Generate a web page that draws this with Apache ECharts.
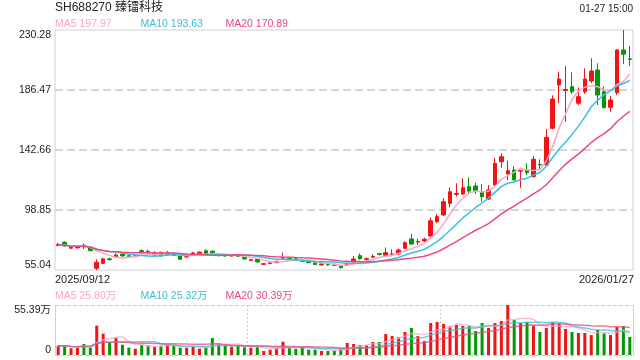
<!DOCTYPE html>
<html><head><meta charset="utf-8">
<script src="https://cdn.jsdelivr.net/npm/echarts@6/dist/echarts.min.js"></script>
<style>html,body{margin:0;padding:0;background:#fff}#c{width:640px;height:360px}</style>
</head><body><div id="c"></div>
<script>
// ---- trading days (categories) ----
const sepDays = [12,15,16,17,18,19,22,23,24,25,26,29,30];
const octDays = [9,10,13,14,15,16,17,20,21,22,23,24,27,28,29,30,31];
const novDays = [3,4,5,6,7,10,11,12,13,14,17,18,19,20,21,24,25,26,27,28];
const decDays = [1,2,3,4,5,8,9,10,11,12,15,16,17,18,19,22,23,24,25,26,29,30,31];
const janDays = [5,6,7,8,9,12,13,14,15,16,19,20,21,22,23,26,27];

// ---- price (OHLC) ----
const openPrices = [73.0,75.3,70.9,71.2,73.1,71.6,56.3,59.9,63.2,64.3, 66.7,65.5,64.8,69.1,68.7,66.0,67.9,66.0,67.2,65.3, 64.5,66.7,66.7,69.1,68.8,66.5,66.0,65.3,66.0,64.3, 62.1,63.1,59.2,59.7,60.4,63.7,64.0,63.3,62.3,61.4, 60.2,58.7,59.4,59.2,58.2,58.5,60.9,65.5,62.8,64.5, 66.9,65.8,66.3,66.7,70.9,77.7,75.4,76.2,79.9,90.3, 95.2,103.7,110.3,110.5,115.9,116.4,112.2,106.9,117.1,134.1, 125.1,128.1,127.2,128.1,123.2,132.1,131.7,158.5,190.1,186.1, 188.9,176.8,185.2,193.0,201.1,185.2,173.8,184.5,215.7,209.2];
const closePrices = [73.6,72.6,71.6,71.9,72.1,69.1,60.7,63.1,62.6,66.0, 65.3,64.8,65.5,67.7,67.7,67.2,65.3,67.7,65.7,62.9, 65.3,67.5,68.1,67.2,66.7,65.7,65.3,65.9,65.1,63.1, 62.6,60.9,59.6,60.2,61.4,64.0,63.5,62.6,61.4,60.4, 59.0,59.4,58.7,58.5,56.7,59.9,63.1,63.3,63.3,65.0, 66.4,67.7,66.8,69.6,75.0,74.0,75.9,77.5,91.0,94.0, 104.9,112.2,110.9,115.1,112.7,112.7,108.6,113.5,132.9,137.8, 127.6,120.8,127.6,126.1,135.9,131.7,151.9,179.9,194.5,186.8, 185.2,181.6,194.5,200.3,182.8,173.5,179.2,215.7,212.6,208.85];
const lowPrices = [72.3,72.3,70.6,70.9,70.4,68.7,55.04,59.5,61.8,64.0, 64.8,64.5,64.5,67.2,67.2,65.6,65.0,65.6,65.3,62.5, 64.0,66.0,66.3,66.7,66.3,65.0,64.8,64.9,64.8,62.8, 61.6,60.5,58.8,59.3,60.0,63.3,63.0,62.1,61.1,60.0, 58.7,58.3,58.2,58.0,56.3,58.0,60.5,62.6,61.8,63.8, 65.6,65.5,65.0,66.3,70.5,73.5,73.3,75.5,78.6,89.2, 94.5,100.8,108.6,110.0,111.0,110.5,104.9,106.0,116.5,129.7, 120.8,120.3,115.1,124.4,122.5,128.1,131.0,157.8,176.8,163.3, 183.6,175.5,183.6,191.4,175.5,173.1,170.6,182.8,205.3,204.0];
const highPrices = [74.8,76.0,72.0,72.3,74.5,72.0,62.9,64.0,64.0,67.2, 67.5,66.0,66.0,70.1,69.9,68.8,68.4,68.9,67.9,65.8, 65.8,68.4,68.6,70.1,69.3,67.0,66.5,66.4,66.5,64.8, 63.0,63.4,60.0,60.6,61.8,67.7,64.5,63.8,62.9,61.8, 60.7,59.9,59.9,59.6,58.7,60.4,65.2,67.2,64.2,66.3, 67.6,71.5,70.1,70.8,76.0,81.3,77.9,78.6,93.3,95.9, 107.4,115.4,118.3,122.0,122.7,118.8,117.8,117.1,137.0,140.2, 134.8,131.0,128.0,133.0,138.3,135.9,158.0,182.6,199.8,204.0, 199.4,188.2,202.3,209.6,206.0,188.9,182.1,216.2,230.28,218.6];

// ---- volume (万) ----
const volumes = [10.3,10.3,7.4,8.1,12.2,8.1,32.5,23.6,13.7,19.2, 11.4,8.1,7.0,11.4,10.7,9.2,10.3,11.8,10.7,8.1, 8.1,9.2,7.0,8.5,18.8,12.5,10.7,9.2,10.3,8.5, 8.1,8.9,4.4,5.9,7.7,14.8,7.8,6.8,8.9,5.9, 5.9,4.4,4.4,4.8,6.6,13.3,12.2,11.1,10.7,14.4, 14.4,23.2,21.0,19.6,25.5,29.9,21.0,15.5,35.4,36.5, 34.3,31.7,33.2,32.1,32.1,26.6,35.4,29.9,35.4,37.6, 55.39,38.7,35.4,36.5,32.1,25.5,29.9,36.5,35.1,28.8, 25.5,24.4,24.4,22.1,27.7,23.9,22.1,31.0,32.1,20.0];

// ---- axis ticks / texts ----
const priceTicks = [55.04, 98.85, 142.66, 186.47, 230.28];
const volTicks = [0, 55.39];
const titleText = 'SH688270 臻镭科技';
const timeText = '01-27 15:00';
const priceLegend = ['MA5 197.97', 'MA10 193.63', 'MA20 170.89'];
const volLegend = ['MA5 25.80万', 'MA10 25.32万', 'MA20 30.39万'];

const UP = '#f01414', DOWN = '#009a00';
const MA_COLORS = ['#f9a7c4', '#35c2e2', '#ea4a80'];
const FONT = "'Liberation Sans', Arial, 'Noto Sans CJK SC', sans-serif";

function pad(n) { return (n < 10 ? '0' : '') + n; }
const categories = []
  .concat(sepDays.map(d => '2025/09/' + pad(d)))
  .concat(octDays.map(d => '2025/10/' + pad(d)))
  .concat(novDays.map(d => '2025/11/' + pad(d)))
  .concat(decDays.map(d => '2025/12/' + pad(d)))
  .concat(janDays.map(d => '2026/01/' + pad(d)));

function movingAverage(arr, n) {
  return arr.map((_, i) => {
    const s = Math.max(0, i - n + 1);
    let sum = 0;
    for (let k = s; k <= i; k++) sum += arr[k];
    return +(sum / (i - s + 1)).toFixed(2);
  });
}

const kData = openPrices.map((o, i) => [o, closePrices[i], lowPrices[i], highPrices[i]]);
const volData = volumes.map((v, i) => ({
  value: v,
  itemStyle: { color: closePrices[i] >= openPrices[i] ? UP : DOWN }
}));
const priceMA = [5, 10, 20].map(n => movingAverage(closePrices, n));
const volMA = [5, 10, 20].map(n => movingAverage(volumes, n));

const legendX = [55, 140.5, 225.5];
const graphics = [
  { type: 'text', x: 55, y: 8, style: { text: titleText, fill: '#222', font: '12px ' + FONT, textAlign: 'left', textVerticalAlign: 'middle' } },
  { type: 'text', x: 633, y: 9, style: { text: timeText, fill: '#222', font: '10px ' + FONT, textAlign: 'right', textVerticalAlign: 'middle' } },
  { type: 'text', x: 55, y: 280, style: { text: categories[0], fill: '#222', font: '11px ' + FONT, textAlign: 'left', textVerticalAlign: 'middle' } },
  { type: 'text', x: 634, y: 280, style: { text: categories[categories.length - 1], fill: '#222', font: '11px ' + FONT, textAlign: 'right', textVerticalAlign: 'middle' } }
];
priceLegend.forEach((t, i) => graphics.push({ type: 'text', x: legendX[i], y: 24, style: { text: t, fill: MA_COLORS[i], font: '10.5px ' + FONT, textAlign: 'left', textVerticalAlign: 'middle' } }));
volLegend.forEach((t, i) => graphics.push({ type: 'text', x: legendX[i], y: 296, style: { text: t, fill: MA_COLORS[i], font: '10.5px ' + FONT, textAlign: 'left', textVerticalAlign: 'middle' } }));

const gridLineStyle = { color: '#d6d6d6', type: 'dashed', width: 2, opacity: 1 };
const volLineStyle = { color: '#cccccc', type: 'dashed', width: 1, opacity: 1 };

const chart = echarts.init(document.getElementById('c'), null, { renderer: 'canvas' });
chart.setOption({
  animation: false,
  backgroundColor: '#fff',
  graphic: graphics,
  grid: [
    { left: 55, top: 30, width: 578, height: 240, show: true, borderColor: '#d0d0d0', borderWidth: 1, backgroundColor: 'transparent' },
    { left: 55, top: 305, width: 578, height: 50 }
  ],
  xAxis: [
    { type: 'category', gridIndex: 0, data: categories, boundaryGap: true,
      axisLine: { show: false }, axisTick: { show: false }, axisLabel: { show: false }, splitLine: { show: false } },
    { type: 'category', gridIndex: 1, data: categories, boundaryGap: true,
      axisLine: { show: false }, axisTick: { show: false }, axisLabel: { show: false },
      splitLine: { show: true, interval: (idx) => idx === 30 || idx === 60, lineStyle: { color: '#cccccc', type: [2, 2], width: 1 } } }
  ],
  yAxis: [
    { type: 'value', gridIndex: 0, min: priceTicks[0], max: priceTicks[priceTicks.length - 1], position: 'left',
      axisLine: { show: false }, axisTick: { show: false },
      axisLabel: { customValues: priceTicks, formatter: v => v.toFixed(2), color: '#222', fontSize: 10.5, fontFamily: FONT, margin: 4,
        verticalAlignMinLabel: 'bottom', verticalAlignMaxLabel: 'top' },
      splitLine: { show: false } },
    { type: 'value', gridIndex: 1, min: volTicks[0], max: volTicks[1], position: 'left',
      axisLine: { show: true, lineStyle: { color: '#d0d0d0', width: 1 } }, axisTick: { show: false },
      axisLabel: { customValues: volTicks, formatter: v => v === 0 ? '0' : v.toFixed(2) + '万', color: '#222', fontSize: 10.5, fontFamily: FONT, margin: 4,
        verticalAlignMinLabel: 'bottom', verticalAlignMaxLabel: 'top' },
      splitLine: { show: false } },
    { type: 'value', gridIndex: 1, min: volTicks[0], max: volTicks[1], position: 'right',
      axisLine: { show: true, lineStyle: { color: '#d0d0d0', width: 1 } },
      axisTick: { show: false }, axisLabel: { show: false }, splitLine: { show: false } }
  ],
  series: [
    { type: 'candlestick', xAxisIndex: 0, yAxisIndex: 0, data: kData, barWidth: 4, z: 2,
      itemStyle: { color: UP, color0: DOWN, borderColor: UP, borderColor0: DOWN, borderWidth: 1 } },
    ...priceMA.map((d, i) => ({ type: 'line', xAxisIndex: 0, yAxisIndex: 0, data: d, symbol: 'none', z: 3,
      lineStyle: { color: MA_COLORS[i], width: 1.5 },
      markLine: i === 0 ? { silent: true, z: 1, symbol: ['none', 'none'], animation: false, label: { show: false },
        lineStyle: gridLineStyle, emphasis: { disabled: true },
        data: priceTicks.slice(1, -1).map(v => ({ yAxis: v })) } : undefined })),
    { type: 'bar', xAxisIndex: 1, yAxisIndex: 1, data: volData, barWidth: 3, z: 2 },
    ...volMA.map((d, i) => ({ type: 'line', xAxisIndex: 1, yAxisIndex: 1, data: d, symbol: 'none', z: 3,
      lineStyle: { color: MA_COLORS[i], width: 1.5, opacity: 0.75 },
      markLine: i === 0 ? { silent: true, z: 1, symbol: ['none', 'none'], animation: false, label: { show: false },
        lineStyle: volLineStyle, emphasis: { disabled: true },
        data: volTicks.map(v => ({ yAxis: v })) } : undefined }))
  ]
});
</script></body></html>
